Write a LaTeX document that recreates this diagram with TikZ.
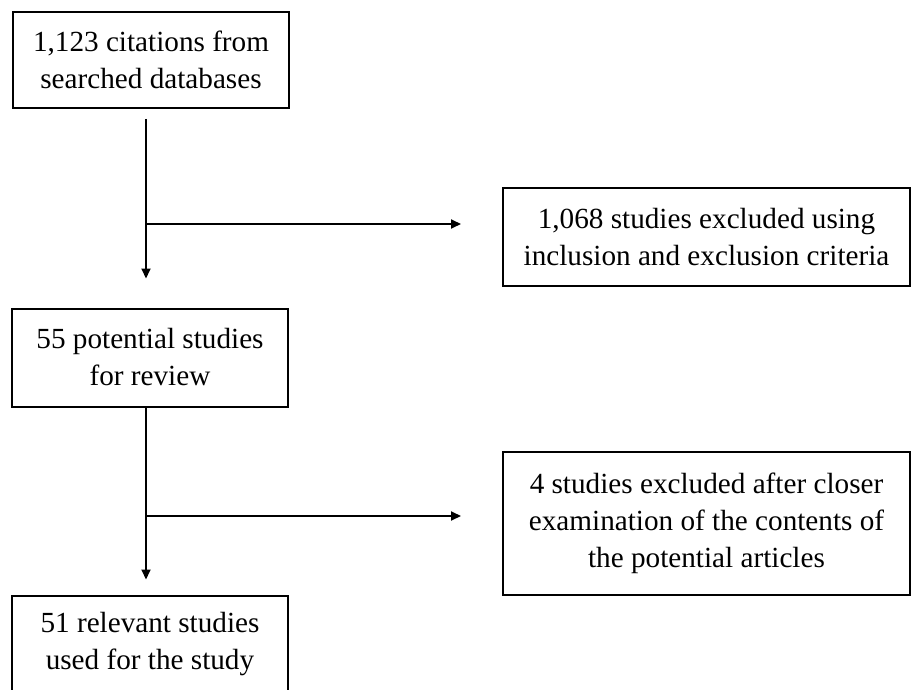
\documentclass[tikz,border=0pt]{standalone}
\usepackage{fontspec}
\setmainfont{Liberation Serif}
\usetikzlibrary{arrows.meta,positioning}

\begin{document}
\begin{tikzpicture}[
     block/.style = {draw, rectangle, line width=1pt, align=center, inner sep=0pt,
      font=\fontsize{14.6pt}{18.5pt}\selectfont},
     leftblock/.style = {block, minimum width=138pt, minimum height=49pt},
     rightblock/.style = {block, minimum width=203.5pt},
     arrow/.style = {draw, line width=1pt, -{Triangle[length=5pt,width=4.5pt]}}
    ]
    \useasboundingbox (0,0) rectangle (455.5pt,-345pt);

    \node [leftblock, minimum height=48pt] (cites) at (75.5pt,-30pt) {1,123 citations from\\searched databases};
    \node [leftblock, below of=cites, node distance=148.75pt, xshift=-0.5pt] (potential) {55 potential studies\\for review};
    \node [leftblock, below of=potential, node distance=143.5pt] (relevant) {51 relevant studies\\used for the study};
    \node [rightblock, minimum height=49pt, below right=39pt and 106pt of cites] (excl1) {1,068 studies excluded using\\inclusion and exclusion criteria};
    \node [rightblock, minimum height=71.5pt, below of=excl1, node distance=143.25pt] (excl2) {4 studies excluded after closer\\examination of the contents of\\the potential articles};

    \coordinate (top1) at ([xshift=-2.5pt,yshift=-5pt]cites.south);
    \coordinate (end1) at ([xshift=-2pt,yshift=14.5pt]potential.north);
    \coordinate (tip1) at ([xshift=-20.5pt,yshift=6.5pt]excl1.west);
    \coordinate (top2) at ([xshift=-2pt]potential.south);
    \coordinate (end2) at ([xshift=-2pt,yshift=7.5pt]relevant.north);
    \coordinate (tip2) at ([xshift=-20.5pt,yshift=3.75pt]excl2.west);

    \draw[arrow] (top1) -- (end1);
    \draw[arrow] (top1 |- tip1) -- (tip1);
    \draw[arrow] (top2) -- (end2);
    \draw[arrow] (top2 |- tip2) -- (tip2);
\end{tikzpicture}
\end{document}
